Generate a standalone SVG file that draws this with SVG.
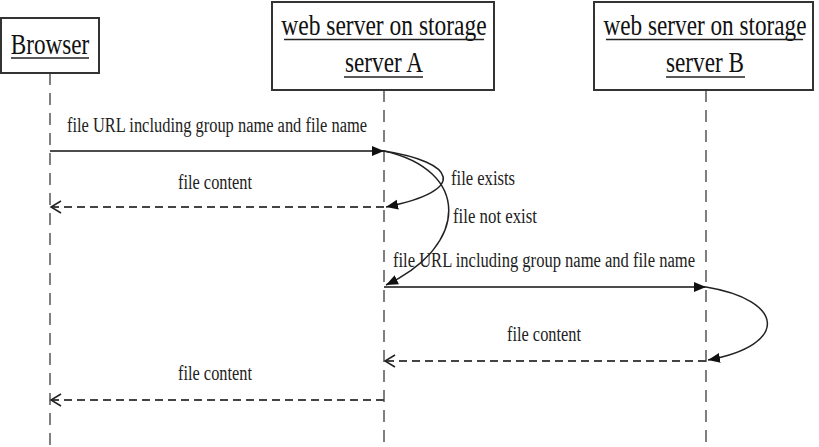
<svg xmlns="http://www.w3.org/2000/svg" width="819" height="447" viewBox="0 0 819 447">
<style>
.box{fill:#fff;stroke:#333;stroke-width:2}
.hd{font-family:"Liberation Serif","Times New Roman",serif;font-size:29px;fill:#111;text-anchor:middle}
.ul{stroke:#222;stroke-width:1.5}
.life{stroke:#555;stroke-width:1.5;stroke-dasharray:12 8;fill:none}
.lbl{font-family:"Liberation Serif","Times New Roman",serif;font-size:20px;fill:#222;text-anchor:middle}
.sol{stroke:#111;stroke-width:1.6;fill:none}
.dsh{stroke:#444;stroke-width:2;stroke-dasharray:8 5;fill:none}
.crv{stroke:#222;stroke-width:1.5;fill:none}
</style>
<defs>
<marker id="fill" markerUnits="userSpaceOnUse" markerWidth="14" markerHeight="12" refX="12" refY="5" orient="auto" viewBox="0 0 14 10">
<path d="M0,0 L12,5 L0,10 Z" fill="#111"/>
</marker>
<marker id="open" markerUnits="userSpaceOnUse" markerWidth="14" markerHeight="14" refX="11" refY="6" orient="auto" viewBox="0 0 14 12">
<path d="M1,0 L11,6 L1,12" fill="none" stroke="#222" stroke-width="1.5"/>
</marker>
</defs>
<g id="lifelines">
<line class="life" x1="50" y1="73" x2="50" y2="447"/>
<line class="life" x1="384" y1="90" x2="384" y2="447"/>
<line class="life" x1="706" y1="90" x2="706" y2="447"/>
</g>
<g id="browser">
<rect class="box" x="1" y="18" width="98" height="55"/>
<text class="hd" transform="translate(50,54) scale(0.8,1)">Browser</text>
<line class="ul" x1="11" y1="58" x2="89" y2="58"/>
</g>
<g id="serverA">
<rect class="box" x="272" y="2" width="222" height="88"/>
<text class="hd" transform="translate(384,35) scale(0.81,1)">web server on storage</text>
<line class="ul" x1="284" y1="39.5" x2="484" y2="39.5"/>
<text class="hd" transform="translate(384,72) scale(0.8,1)">server A</text>
<line class="ul" x1="344" y1="77" x2="423" y2="77"/>
</g>
<g id="serverB">
<rect class="box" x="594" y="2" width="219" height="88"/>
<text class="hd" transform="translate(705,35) scale(0.8,1)">web server on storage</text>
<line class="ul" x1="606" y1="39.5" x2="803" y2="39.5"/>
<text class="hd" transform="translate(705,72) scale(0.8,1)">server B</text>
<line class="ul" x1="666" y1="77" x2="745" y2="77"/>
</g>
<g id="connectors">
<line class="sol" x1="50" y1="151" x2="384" y2="151" marker-end="url(#fill)"/>
<text class="lbl" x="217" y="132" textLength="300" lengthAdjust="spacingAndGlyphs">file URL including group name and file name</text>
<line class="dsh" x1="384" y1="207" x2="51" y2="207" marker-end="url(#open)"/>
<text class="lbl" x="215" y="189" textLength="74" lengthAdjust="spacingAndGlyphs">file content</text>
<path class="crv" d="M384,151 C455,162 470,190 386,207" marker-end="url(#fill)"/>
<text class="lbl" x="483" y="185" textLength="64" lengthAdjust="spacingAndGlyphs">file exists</text>
<path class="crv" d="M384,151 C470,170 470,245 386,285" marker-end="url(#fill)"/>
<text class="lbl" x="495" y="223" textLength="84" lengthAdjust="spacingAndGlyphs">file not exist</text>
<line class="sol" x1="384" y1="287" x2="706" y2="287" marker-end="url(#fill)"/>
<text class="lbl" x="544" y="267" textLength="302" lengthAdjust="spacingAndGlyphs">file URL including group name and file name</text>
<path class="crv" d="M706,287 C785,300 790,345 708,360" marker-end="url(#fill)"/>
<line class="dsh" x1="706" y1="361" x2="385" y2="361" marker-end="url(#open)"/>
<text class="lbl" x="544" y="341" textLength="74" lengthAdjust="spacingAndGlyphs">file content</text>
<line class="dsh" x1="384" y1="400" x2="51" y2="400" marker-end="url(#open)"/>
<text class="lbl" x="215" y="380" textLength="74" lengthAdjust="spacingAndGlyphs">file content</text>
</g>
</svg>
